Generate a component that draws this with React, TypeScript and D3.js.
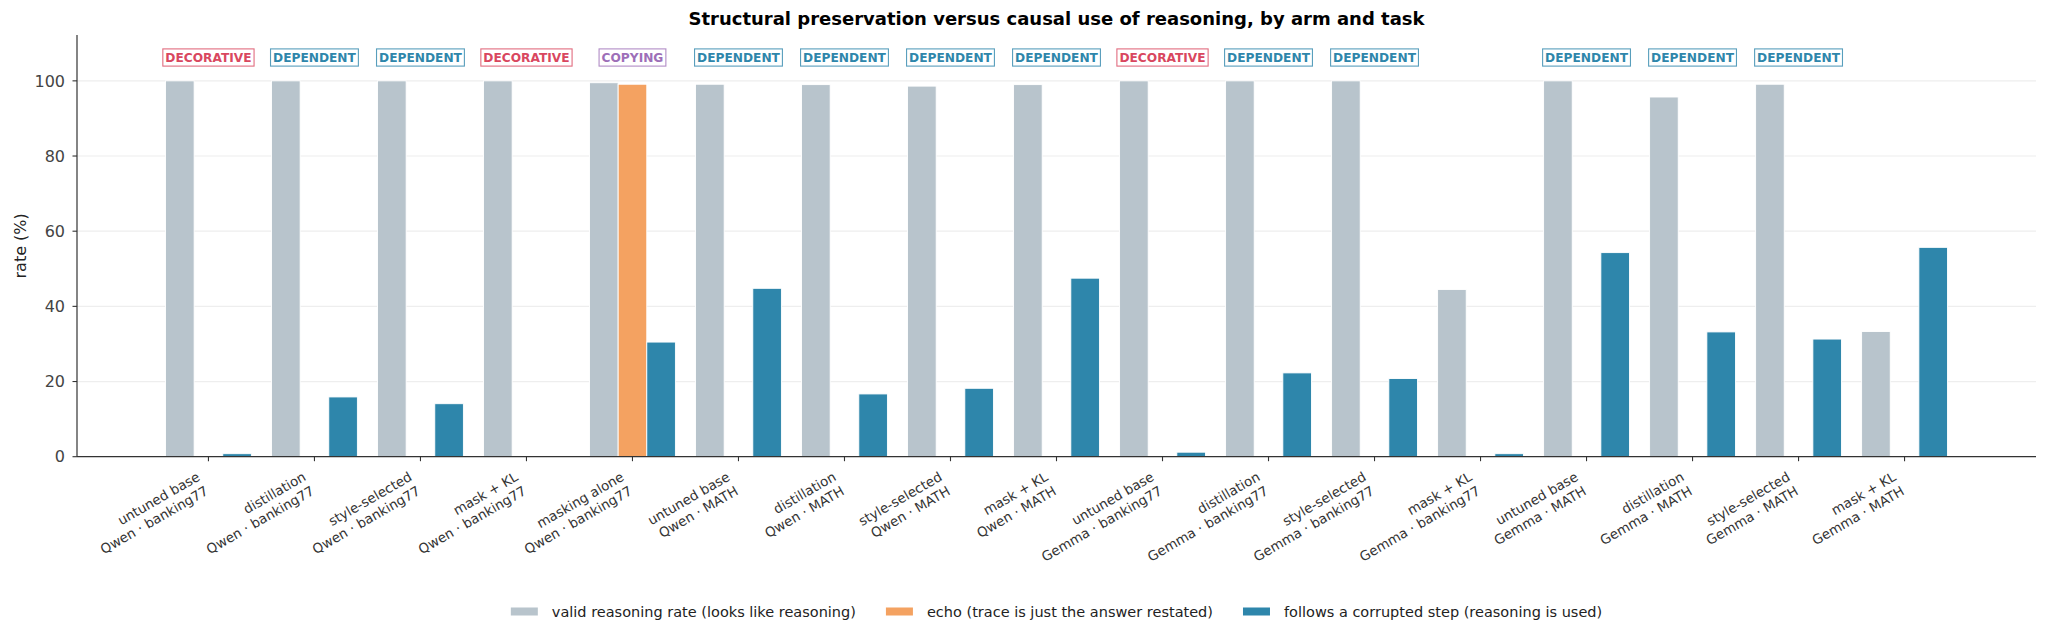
import { scaleBand, scaleLinear } from "d3";

// arm name (first label line) and model · task (second label line)
const ARMS = [
  "untuned base", "distillation", "style-selected", "mask + KL", "masking alone",
  "untuned base", "distillation", "style-selected", "mask + KL",
  "untuned base", "distillation", "style-selected", "mask + KL",
  "untuned base", "distillation", "style-selected", "mask + KL",
];
const SETTINGS = [
  "Qwen · banking77", "Qwen · banking77", "Qwen · banking77", "Qwen · banking77", "Qwen · banking77",
  "Qwen · MATH", "Qwen · MATH", "Qwen · MATH", "Qwen · MATH",
  "Gemma · banking77", "Gemma · banking77", "Gemma · banking77", "Gemma · banking77",
  "Gemma · MATH", "Gemma · MATH", "Gemma · MATH", "Gemma · MATH",
];
const VALID = [100, 100, 100, 100, 99.5, 99.1, 99.0, 98.6, 99.0, 100, 100, 100, 44.5, 100, 95.7, 99.1, 33.3];
const ECHO: (number | null)[] = [null, null, null, null, 99.1, null, null, null, null, null, null, null, null, null, null, null, null];
const FOLLOWS = [0.8, 15.9, 14.1, 0, 30.5, 44.8, 16.7, 18.2, 47.5, 1.2, 22.3, 20.8, 0.8, 54.3, 33.2, 31.3, 55.7];
const BADGES: (string | null)[] = [
  "DECORATIVE", "DEPENDENT", "DEPENDENT", "DECORATIVE", "COPYING",
  "DEPENDENT", "DEPENDENT", "DEPENDENT", "DEPENDENT",
  "DECORATIVE", "DEPENDENT", "DEPENDENT", null,
  "DEPENDENT", "DEPENDENT", "DEPENDENT", null,
];
const Y_TICKS = [0, 20, 40, 60, 80, 100];
const LEGEND = [
  "valid reasoning rate (looks like reasoning)",
  "echo (trace is just the answer restated)",
  "follows a corrupted step (reasoning is used)",
];

const COLORS = { valid: "#b8c4cc", echo: "#f4a261", follows: "#2e86ab" };
const BADGE_COLORS: Record<string, string> = {
  DECORATIVE: "#d9475f",
  DEPENDENT: "#2e86ab",
  COPYING: "#9d6fb8",
};
const FONT = "DejaVu Sans, Verdana, sans-serif";

let ctx: CanvasRenderingContext2D | null = null;
function textWidth(text: string, font: string) {
  if (!ctx) ctx = document.createElement("canvas").getContext("2d");
  if (!ctx) return text.length * 7;
  ctx.font = font;
  return ctx.measureText(text).width;
}

export default function App() {
  const W = 2048;
  const H = 637;
  const left = 77;
  const right = 2036;
  const top = 35;
  const bottom = 456.7;

  const idx = ARMS.map((_, i) => String(i));
  const x = scaleBand<string>().domain(idx).range([left, right]).paddingInner(0).paddingOuter(0.74);
  const step = x.step();
  const barW = step * 0.27;
  const cx = (i: number) => (x(String(i)) ?? 0) + x.bandwidth() / 2;
  const y = scaleLinear().domain([0, 112.2]).range([bottom, top]);

  const bar = (i: number, v: number, offset: number, fill: string, key: string) => (
    <rect
      key={key}
      x={cx(i) + offset * barW - barW / 2}
      y={y(v)}
      width={barW}
      height={bottom - y(v)}
      fill={fill}
      stroke="#ffffff"
      strokeWidth={0.9}
    />
  );

  // legend layout, centred under the axes
  const legendFont = `14.5px ${FONT}`;
  const sw = 27;
  const legendWidths = LEGEND.map((t) => sw + 14 + textWidth(t, legendFont));
  const legendTotal = legendWidths.reduce((a, b) => a + b, 0) + 30 * (LEGEND.length - 1);
  let lx = (left + right) / 2 - legendTotal / 2;
  const legendColors = [COLORS.valid, COLORS.echo, COLORS.follows];

  return (
    <svg
      width={W}
      height={H}
      style={{ position: "absolute", left: 0, top: 0, background: "#fff" }}
      fontFamily={FONT}
    >
      <text x={(left + right) / 2} y={25} textAnchor="middle" fontSize={18} fontWeight="bold" fill="#000">
        Structural preservation versus causal use of reasoning, by arm and task
      </text>

      {/* grid */}
      {Y_TICKS.filter((t) => t > 0).map((t) => (
        <line key={t} x1={left} x2={right} y1={y(t)} y2={y(t)} stroke="#eeeeee" strokeWidth={1.2} />
      ))}

      {/* bars */}
      {ARMS.map((_, i) => (
        <g key={i}>
          {bar(i, VALID[i], -1, COLORS.valid, "v")}
          {ECHO[i] !== null && bar(i, ECHO[i] as number, 0, COLORS.echo, "e")}
          {FOLLOWS[i] > 0 && bar(i, FOLLOWS[i], 1, COLORS.follows, "f")}
        </g>
      ))}

      {/* badges */}
      {BADGES.map((b, i) => {
        if (!b) return null;
        const tw = textWidth(b, `bold 12.2px ${FONT}`);
        const c = BADGE_COLORS[b];
        return (
          <g key={i} transform={`translate(${cx(i)},57.5)`}>
            <rect x={-tw / 2 - 2.5} y={-8.6} width={tw + 5} height={17.2} fill="#fff" stroke={c} strokeOpacity={0.8} strokeWidth={1.1} />
            <text textAnchor="middle" dy="0.36em" fontSize={12.2} fontWeight="bold" fill={c}>
              {b}
            </text>
          </g>
        );
      })}

      {/* axes */}
      <line x1={left} x2={left} y1={top} y2={bottom} stroke="#333" strokeWidth={1.2} />
      <line x1={left} x2={right} y1={bottom} y2={bottom} stroke="#333" strokeWidth={1.2} />
      {Y_TICKS.map((t) => (
        <g key={t}>
          <line x1={left - 4.5} x2={left} y1={y(t)} y2={y(t)} stroke="#333" strokeWidth={1.1} />
          <text x={left - 12} y={y(t)} dy="0.36em" textAnchor="end" fontSize={16} fill="#444">
            {t}
          </text>
        </g>
      ))}
      <text transform={`translate(20,${(top + bottom) / 2}) rotate(-90)`} textAnchor="middle" dy="0.36em" fontSize={16} fill="#222">
        rate (%)
      </text>
      {ARMS.map((arm, i) => (
        <g key={i}>
          <line x1={cx(i)} x2={cx(i)} y1={bottom} y2={bottom + 4.5} stroke="#333" strokeWidth={1.1} />
          <text transform={`translate(${cx(i) - 13},470) rotate(-30)`} textAnchor="end" fontSize={13.4} fill="#333">
            <tspan x={0} y={11}>{arm}</tspan>
            <tspan x={0} y={27.4}>{SETTINGS[i]}</tspan>
          </text>
        </g>
      ))}

      {/* legend */}
      {LEGEND.map((t, i) => {
        const x0 = lx;
        lx += legendWidths[i] + 30;
        return (
          <g key={t} transform={`translate(${x0},611.5)`}>
            <rect x={0} y={-4} width={sw} height={8} fill={legendColors[i]} />
            <text x={sw + 14} dy="0.36em" fontSize={14.5} fill="#222">
              {t}
            </text>
          </g>
        );
      })}
    </svg>
  );
}
